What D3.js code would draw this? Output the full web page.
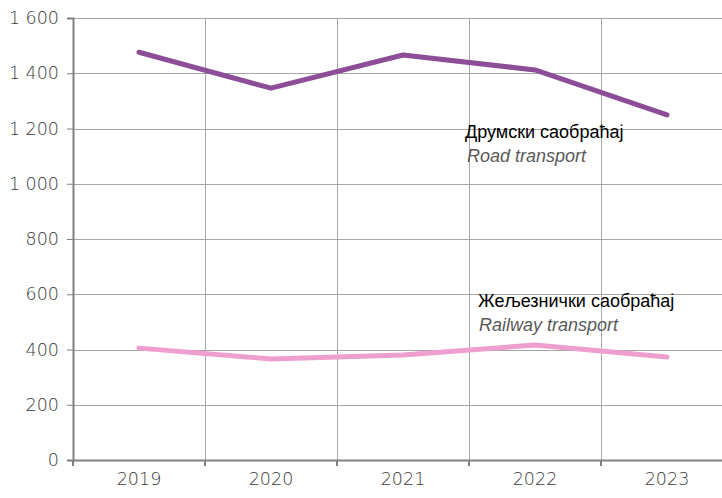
<!DOCTYPE html>
<html>
<head>
<meta charset="utf-8">
<style>
    body { margin: 0; background: #fff; }
    .tick text { font-family: "DejaVu Sans", sans-serif; font-stretch: condensed; font-weight: 300; font-size: 17.5px; fill: #3a3a3a; }
    .label { font-family: "Liberation Sans", sans-serif; font-stretch: condensed; font-size: 18px; }
</style>
</head>
<body>
<div id="chart"></div>
<script src="https://cdn.jsdelivr.net/npm/d3@7"></script>
<script>
    var years = ["2019", "2020", "2021", "2022", "2023"];
    var road = [1476, 1346, 1466, 1412, 1249];
    var rail = [405, 366, 380, 416, 373];
    var yTicks = [0, 200, 400, 600, 800, 1000, 1200, 1400, 1600];

    var width = 722, height = 498;
    var marginLeft = 73, marginTop = 18, plotBottom = 460;
    var band = 132;

    var svg = d3.select("#chart").append("svg")
        .attr("width", width)
        .attr("height", height);

    var x = d3.scaleBand().domain(years).range([marginLeft, marginLeft + band * years.length]);
    var y = d3.scaleLinear().domain([0, 1600]).range([plotBottom, marginTop]);

    // grid
    svg.append("g").selectAll("line")
        .data(yTicks.slice(1))
        .enter().append("line")
        .attr("x1", marginLeft).attr("x2", width)
        .attr("y1", function (d) { return Math.round(y(d)) + 0.5; })
        .attr("y2", function (d) { return Math.round(y(d)) + 0.5; })
        .attr("stroke", "#a6a6a6").attr("stroke-width", 1);

    svg.append("g").selectAll("line")
        .data(years.slice(1))
        .enter().append("line")
        .attr("x1", function (d) { return x(d) + 0.5; })
        .attr("x2", function (d) { return x(d) + 0.5; })
        .attr("y1", marginTop).attr("y2", plotBottom)
        .attr("stroke", "#a6a6a6").attr("stroke-width", 1);

    // y axis
    var fmt = function (d) { return d3.format(",")(d).replace(/,/g, " "); };
    var yAxis = svg.append("g")
        .attr("transform", "translate(" + marginLeft + ",0)")
        .call(d3.axisLeft(y).tickValues(yTicks).tickFormat(fmt).tickSize(6).tickPadding(8));
    yAxis.select(".domain").attr("stroke", "#808080").attr("stroke-width", 2);
    yAxis.selectAll(".tick line").attr("stroke", "#808080");

    // x axis
    var xAxis = svg.append("g")
        .attr("transform", "translate(0," + plotBottom + ")")
        .call(d3.axisBottom(x).tickSize(0).tickPadding(13));
    xAxis.select(".domain").attr("stroke", "#808080").attr("stroke-width", 2);
    svg.append("g").selectAll("line")
        .data(years)
        .enter().append("line")
        .attr("x1", function (d) { return x(d); })
        .attr("x2", function (d) { return x(d); })
        .attr("y1", plotBottom).attr("y2", plotBottom + 6)
        .attr("stroke", "#808080").attr("stroke-width", 2);

    var line = d3.line()
        .x(function (d, i) { return x(years[i]) + x.bandwidth() / 2; })
        .y(function (d) { return y(d); });

    svg.append("path").datum(road)
        .attr("d", line)
        .attr("fill", "none")
        .attr("stroke", "#8b4e97")
        .attr("stroke-width", 5)
        .attr("stroke-linecap", "round")
        .attr("stroke-linejoin", "round");

    svg.append("path").datum(rail)
        .attr("d", line)
        .attr("fill", "none")
        .attr("stroke", "#ee9fcf")
        .attr("stroke-width", 5)
        .attr("stroke-linecap", "round")
        .attr("stroke-linejoin", "round");

    // labels
    svg.append("text").attr("class", "label")
        .attr("x", 465).attr("y", 138).attr("fill", "#000")
        .text("Друмски саобраћај");
    svg.append("text").attr("class", "label")
        .attr("x", 467).attr("y", 162).attr("fill", "#595959").attr("font-style", "italic")
        .text("Road transport");
    svg.append("text").attr("class", "label")
        .attr("x", 478).attr("y", 307).attr("fill", "#000")
        .text("Жељезнички саобраћај");
    svg.append("text").attr("class", "label")
        .attr("x", 479).attr("y", 331).attr("fill", "#595959").attr("font-style", "italic")
        .text("Railway transport");
</script>
</body>
</html>
